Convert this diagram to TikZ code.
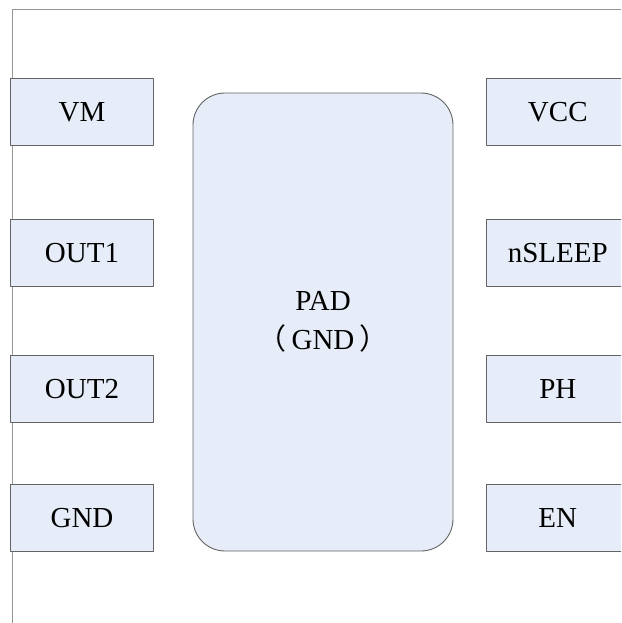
\documentclass[tikz,border=0pt]{standalone}
\usepackage{fontspec}
\setmainfont{Liberation Serif}
\newfontfamily\cjk{Noto Sans CJK SC}
\definecolor{pinfill}{RGB}{230,237,248}
\definecolor{pinline}{RGB}{100,100,100}
\definecolor{frameline}{RGB}{150,150,150}
\begin{document}
\begin{tikzpicture}[x=1pt,y=-1pt,line join=round,
	pin/.style={draw=pinline,fill=pinfill,line width=.9pt,minimum width=143.5pt,minimum height=66.5pt,inner sep=0pt,font=\fontsize{29}{39}\selectfont},
	pad/.style={draw=pinline,fill=pinfill,line width=.9pt,rounded corners=32pt,minimum width=260pt,minimum height=458pt,inner sep=0pt,align=center,font=\fontsize{29}{39}\selectfont}]
\useasboundingbox (0,0) rectangle (621,623);
\clip (0,0) rectangle (621,623);
	\draw[frameline,line width=.9pt] (12,623)--(12,9.5)--(621,9.5);
	\node[pin] (vm) at (82,112) {VM};
	\node[pin] (out1) at (82,253) {OUT1};
	\node[pin] (out2) at (82,388.7) {OUT2};
	\node[pin] (gnd) at (82,517.7) {GND};
	\node[pin] (vcc) at (557.8,112) {VCC};
	\node[pin] (nsleep) at (557.8,253) {nSLEEP};
	\node[pin] (ph) at (557.8,388.7) {PH};
	\node[pin] (en) at (557.8,517.7) {EN};
	\node[pad] (padgnd) at (323,322) {PAD\\{\cjk （}\kern5pt GND\kern5pt{\cjk ）}};
\end{tikzpicture}
\end{document}
